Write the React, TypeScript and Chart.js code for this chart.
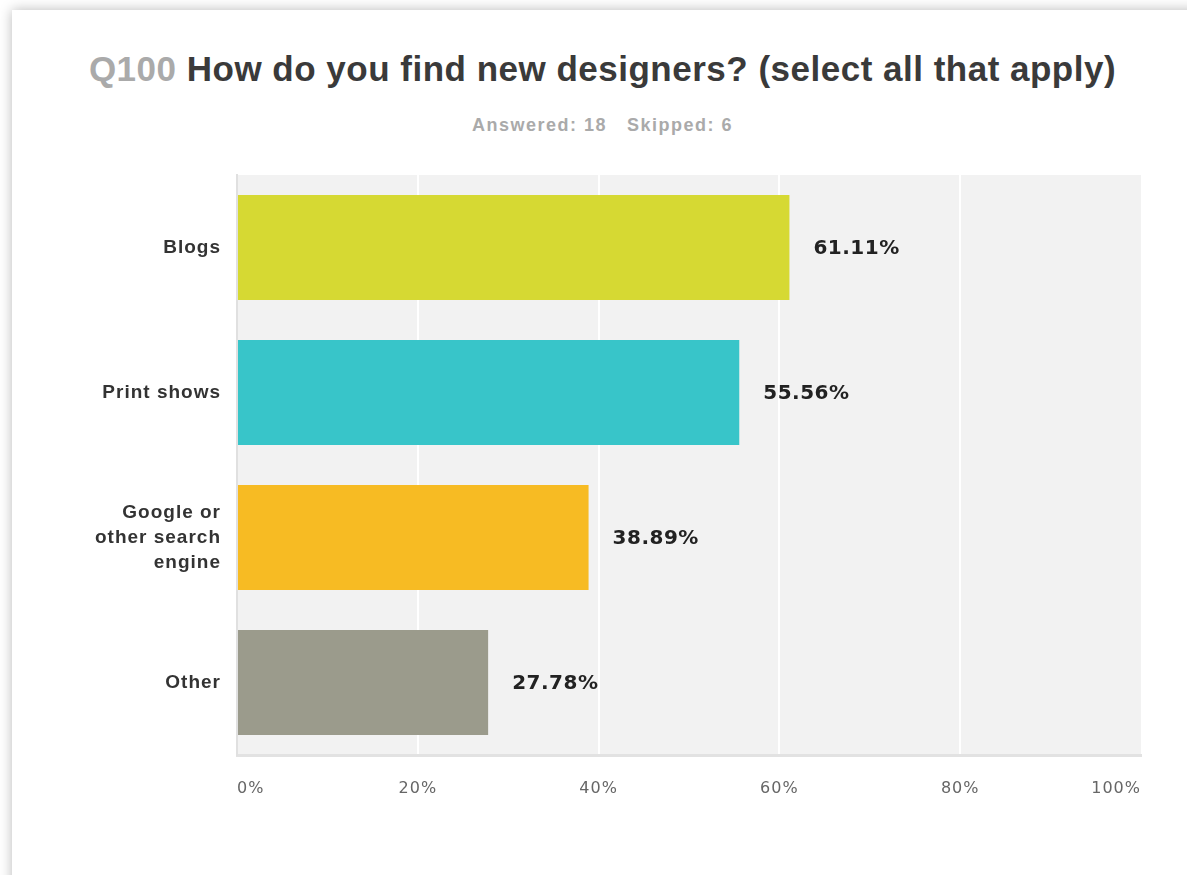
import React, { useEffect, useRef } from "react";
import { Chart, registerables } from "chart.js";

Chart.register(...registerables);

const categories: (string | string[])[] = [
  "Blogs",
  "Print shows",
  ["Google or", "other search", "engine"],
  "Other",
];
const percentValues = [61.11, 55.56, 38.89, 27.78];
const barColors = ["#d6d933", "#38c5c9", "#f7bb23", "#9b9b8c"];
const xTickValues = [0, 20, 40, 60, 80, 100];
const titlePrefix = "Q100";
const titleText = "How do you find new designers? (select all that apply)";
const answeredText = "Answered: 18";
const skippedText = "Skipped: 6";

const plotBackground = {
  id: "plotBackground",
  beforeDraw(chart: any) {
    const { ctx, chartArea: a } = chart;
    ctx.save();
    ctx.fillStyle = "#f2f2f2";
    ctx.fillRect(a.left, a.top, a.right - a.left, a.bottom - a.top);
    ctx.restore();
    (ctx as any).letterSpacing = "1px";
  },
};

const valueLabels = {
  id: "valueLabels",
  afterDatasetsDraw(chart: any) {
    const { ctx } = chart;
    const meta = chart.getDatasetMeta(0);
    meta.data.forEach((bar: any, i: number) => {
      ctx.save();
      ctx.font = 'bold 20px "DejaVu Sans"';
      (ctx as any).letterSpacing = "0.5px";
      ctx.fillStyle = "#222222";
      ctx.textAlign = "left";
      ctx.textBaseline = "middle";
      ctx.fillText(percentValues[i].toFixed(2) + "%", bar.x + 24, bar.y + 1);
      ctx.restore();
    });
  },
};

export default function App() {
  const canvasRef = useRef<HTMLCanvasElement | null>(null);

  useEffect(() => {
    if (!canvasRef.current) return;
    const chart = new Chart(canvasRef.current, {
      type: "bar",
      data: {
        labels: categories,
        datasets: [
          {
            data: percentValues,
            backgroundColor: barColors,
            borderWidth: 0,
            barPercentage: 0.724,
            categoryPercentage: 1,
          },
        ],
      },
      options: {
        indexAxis: "y",
        responsive: false,
        animation: false,
        devicePixelRatio: 1,
        layout: { padding: { top: 175, right: 46, left: 0, bottom: 0 } },
        plugins: {
          legend: { display: false },
          tooltip: { enabled: false },
          title: { display: false },
        },
        scales: {
          x: {
            type: "linear",
            min: 0,
            max: 100,
            afterBuildTicks: (scale: any) => {
              scale.ticks = xTickValues.map((v) => ({ value: v }));
            },
            afterFit: (scale: any) => {
              scale.height = 120;
              scale.paddingLeft = 0;
              scale.paddingRight = 0;
            },
            ticks: {
              align: "inner",
              color: "#666666",
              padding: 24,
              font: { family: '"DejaVu Sans"', size: 16 },
              callback: (v: any) => v + "%",
            },
            grid: {
              drawTicks: false,
              lineWidth: 2,
              color: (c: any) =>
                c.tick && (c.tick.value === 0 || c.tick.value === 100)
                  ? "rgba(0,0,0,0)"
                  : "#ffffff",
            },
            border: { display: true, color: "#e2e2e2", width: 3 },
          },
          y: {
            afterFit: (scale: any) => {
              scale.width = 237;
            },
            ticks: {
              color: "#333333",
              padding: 16,
              font: {
                family: '"Liberation Sans", Arial',
                size: 19,
                weight: "bold",
                lineHeight: 1.32,
              },
            },
            grid: { display: false, drawTicks: false },
            border: { display: true, color: "#e0e0e0", width: 2 },
          },
        },
      },
      plugins: [plotBackground, valueLabels],
    });
    return () => chart.destroy();
  }, []);

  return (
    <div
      style={{
        position: "absolute",
        left: 0,
        top: 0,
        width: 1187,
        height: 875,
        background: "#ffffff",
        overflow: "hidden",
      }}
    >
      <div
        style={{
          position: "absolute",
          left: 12,
          top: 10,
          width: 1220,
          height: 920,
          background: "#ffffff",
          boxShadow: "0 0 12px rgba(0,0,0,0.28)",
        }}
      />
      <div
        style={{
          position: "absolute",
          left: 0,
          top: 51,
          width: 1205,
          textAlign: "center",
          fontFamily: '"Liberation Sans", Arial, sans-serif',
          fontWeight: "bold",
          fontSize: 35,
          lineHeight: "35px",
          letterSpacing: "0.5px",
          whiteSpace: "nowrap",
          color: "#3a3a3a",
        }}
      >
        <span style={{ color: "#aaaaaa" }}>{titlePrefix}</span> {titleText}
      </div>
      <div
        style={{
          position: "absolute",
          left: 0,
          top: 116,
          width: 1205,
          textAlign: "center",
          fontFamily: '"Liberation Sans", Arial, sans-serif',
          fontWeight: "bold",
          fontSize: 18,
          lineHeight: "18px",
          letterSpacing: "1.5px",
          whiteSpace: "nowrap",
          color: "#aaaaaa",
        }}
      >
        <span>{answeredText}</span>
        <span style={{ marginLeft: 20 }}>{skippedText}</span>
      </div>
      <canvas
        ref={canvasRef}
        width={1187}
        height={875}
        style={{ position: "absolute", left: 0, top: 0, width: 1187, height: 875 }}
      />
    </div>
  );
}
